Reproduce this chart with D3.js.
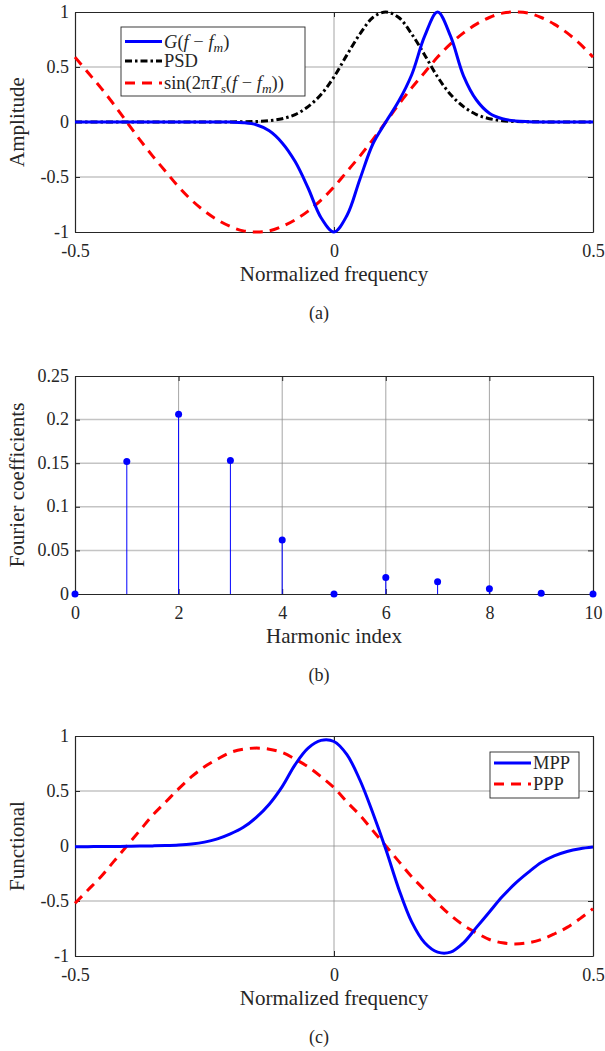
<!DOCTYPE html>
<html>
<head>
<meta charset="utf-8">
<script src="https://cdn.jsdelivr.net/npm/d3@7"></script>
<style>
  body { margin: 0; background: #fff; }
  svg text { font-family: "Liberation Serif", "Times New Roman", serif; fill: #262626; }
</style>
</head>
<body>
<svg id="fig" width="605" height="1051"></svg>
<script>
// ---- data ---------------------------------------------------------------
// normalized frequency samples shared by panels (a) and (c)
const freq = [-0.5, -0.475, -0.45, -0.425, -0.4, -0.375, -0.35, -0.325, -0.3, -0.275,
  -0.25, -0.225, -0.2, -0.175, -0.15, -0.125, -0.1, -0.075, -0.05, -0.025,
  0, 0.025, 0.05, 0.075, 0.1, 0.125, 0.15, 0.175, 0.2, 0.225,
  0.25, 0.275, 0.3, 0.325, 0.35, 0.375, 0.4, 0.425, 0.45, 0.475, 0.5];

// panel (a)
const gShifted = [0, 0, 0, 0, 0, 0, 0, 0, 0, 0,
  0, 0, -0.001, -0.006, -0.025, -0.08, -0.19, -0.36, -0.6, -0.87,
  -1.0, -0.85, -0.52, -0.2, 0, 0.19, 0.43, 0.78, 1.0, 0.78,
  0.42, 0.2, 0.08, 0.03, 0.01, 0.003, 0, 0, 0, 0, 0];
const psd = [0, 0, 0, 0, 0, 0, 0, 0, 0, 0,
  0, 0, 0.001, 0.002, 0.005, 0.012, 0.03, 0.068, 0.14, 0.25,
  0.41, 0.61, 0.8, 0.95, 1.0, 0.95, 0.8, 0.61, 0.41, 0.25,
  0.14, 0.068, 0.03, 0.012, 0.005, 0.002, 0.001, 0, 0, 0, 0];
const sinRef = [0.59, 0.45, 0.31, 0.16, 0, -0.16, -0.31, -0.45, -0.59, -0.71,
  -0.81, -0.89, -0.95, -0.99, -1, -0.99, -0.95, -0.89, -0.81, -0.71,
  -0.59, -0.45, -0.31, -0.16, 0, 0.16, 0.31, 0.45, 0.59, 0.71,
  0.81, 0.89, 0.95, 0.99, 1, 0.99, 0.95, 0.89, 0.81, 0.71, 0.59];

// panel (b)
const harmonic = [0, 1, 2, 3, 4, 5, 6, 7, 8, 9, 10];
const coeffs = [0, 0.152, 0.206, 0.153, 0.062, 0, 0.019, 0.014, 0.006, 0.001, 0];

// panel (c)
const mpp = [-0.006, -0.006, -0.005, -0.004, -0.003, -0.001, 0.001, 0.004, 0.009, 0.018,
  0.035, 0.065, 0.11, 0.17, 0.26, 0.38, 0.54, 0.74, 0.89, 0.96,
  0.95, 0.83, 0.6, 0.3, -0.03, -0.39, -0.69, -0.88, -0.965, -0.965,
  -0.88, -0.74, -0.6, -0.46, -0.34, -0.24, -0.15, -0.09, -0.05, -0.025, -0.01];
const ppp = [-0.52, -0.40, -0.28, -0.14, 0, 0.14, 0.28, 0.40, 0.52, 0.63,
  0.72, 0.79, 0.85, 0.88, 0.89, 0.88, 0.85, 0.79, 0.72, 0.63,
  0.53, 0.40, 0.28, 0.14, 0, -0.14, -0.28, -0.40, -0.52, -0.63,
  -0.72, -0.79, -0.85, -0.88, -0.89, -0.88, -0.85, -0.80, -0.74, -0.66, -0.57];

// tick values and labels
const freqTicks = [-0.5, 0, 0.5];
const freqTickLabels = ["-0.5", "0", "0.5"];
const unitTicks = [-1, -0.5, 0, 0.5, 1];
const unitTickLabels = ["-1", "-0.5", "0", "0.5", "1"];
const harmTicks = [0, 2, 4, 6, 8, 10];
const harmTickLabels = ["0", "2", "4", "6", "8", "10"];
const coefTicks = [0, 0.05, 0.1, 0.15, 0.2, 0.25];
const coefTickLabels = ["0", "0.05", "0.1", "0.15", "0.2", "0.25"];

// ---- layout ---------------------------------------------------------------
const W = 605, H = 1051;
const left = 75, right = 593;
const axisColor = "#262626";
const tickFont = 18, labelFont = 21, captionFont = 18, legendFont = 18.5;

const svg = d3.select("#fig");
svg.append("rect").attr("width", W).attr("height", H).attr("fill", "#fff");

function makePanel(opt) {
  const x = d3.scaleLinear().domain(opt.xDomain).range([left, right]);
  const y = d3.scaleLinear().domain(opt.yDomain).range([opt.bottom, opt.top]);
  const g = svg.append("g");

  // grid
  g.append("g").selectAll("line").data(opt.yGrid).join("line")
    .attr("x1", left).attr("x2", right)
    .attr("y1", d => y(d)).attr("y2", d => y(d))
    .attr("stroke", "#c4c4c4").attr("stroke-width", 1.5);
  g.append("g").selectAll("line").data(opt.xGrid).join("line")
    .attr("x1", d => x(d)).attr("x2", d => x(d))
    .attr("y1", opt.top).attr("y2", opt.bottom)
    .attr("stroke", "#8e8e8e").attr("stroke-width", 0.8);

  const fmtX = d => opt.xLabels[opt.xTicks.indexOf(d)];
  const fmtY = d => opt.yLabels[opt.yTicks.indexOf(d)];
  const axes = [
    [d3.axisBottom(x).tickValues(opt.xTicks).tickFormat(fmtX).tickPadding(12.5), `translate(0,${opt.bottom})`],
    [d3.axisTop(x).tickValues(opt.xTicks).tickFormat(""), `translate(0,${opt.top})`],
    [d3.axisLeft(y).tickValues(opt.yTicks).tickFormat(fmtY).tickPadding(6), `translate(${left},0)`],
    [d3.axisRight(y).tickValues(opt.yTicks).tickFormat(""), `translate(${right},0)`]
  ];
  axes.forEach(([ax, tr], k) => {
    const a = g.append("g").attr("transform", tr)
      .call(ax.tickSizeInner(-5).tickSizeOuter(0));
    a.attr("font-family", null).attr("font-size", null);
    a.select(".domain").attr("stroke", axisColor).attr("stroke-width", 1.2);
    a.selectAll(".tick line").attr("stroke", axisColor).attr("stroke-width", 1);
    a.selectAll(".tick text").attr("font-size", tickFont).attr("fill", axisColor);
    if (k === 2) a.selectAll(".tick text").attr("dy", "0.28em");
  });

  // axis titles and caption
  const cx = (left + right) / 2;
  g.append("text").attr("x", cx).attr("y", opt.bottom + 48.5)
    .attr("text-anchor", "middle").attr("font-size", labelFont).text(opt.xTitle);
  g.append("text")
    .attr("transform", `translate(24,${(opt.top + opt.bottom) / 2}) rotate(-90)`)
    .attr("text-anchor", "middle").attr("font-size", labelFont).text(opt.yTitle);
  g.append("text").attr("x", 319).attr("y", opt.bottom + 87)
    .attr("text-anchor", "middle").attr("font-size", captionFont).text(opt.caption);

  return { x, y, g };
}

function drawCurve(p, values, style) {
  const line = d3.line()
    .x((d, i) => p.x(freq[i]))
    .y(d => p.y(d))
    .curve(d3.curveCatmullRom.alpha(0.5));
  p.g.append("path").datum(values)
    .attr("d", line)
    .attr("fill", "none")
    .attr("stroke", style.color)
    .attr("stroke-width", style.width)
    .attr("stroke-dasharray", style.dash || null)
    .attr("stroke-linejoin", "round");
}

const styles = {
  blue: { color: "#0000ff", width: 3 },
  red: { color: "#ff0000", width: 3, dash: "10,7" },
  black: { color: "#000000", width: 3, dash: "7,3,2.5,3" }
};

function legendEntry(g, x0, y0, style, buildText) {
  g.append("line").attr("x1", x0).attr("x2", x0 + 37).attr("y1", y0).attr("y2", y0)
    .attr("stroke", style.color).attr("stroke-width", style.width)
    .attr("stroke-dasharray", style.dash || null);
  const t = g.append("text").attr("x", x0 + 39).attr("y", y0 + 6)
    .attr("font-size", legendFont).attr("fill", "#000");
  buildText(t);
}

function mathText(t, parts) {
  // parts: [string, italic?, subscript?]
  let shifted = false;
  parts.forEach(([s, it, sub]) => {
    const ts = t.append("tspan").text(s);
    if (it) ts.attr("font-style", "italic");
    if (sub && !shifted) { ts.attr("dy", 4).attr("font-size", legendFont * 0.72); shifted = true; }
    else if (sub) { ts.attr("font-size", legendFont * 0.72); }
    else if (shifted) { ts.attr("dy", -4); shifted = false; }
  });
}

// ---- panel (a) ------------------------------------------------------------
const pa = makePanel({
  top: 12, bottom: 232, xDomain: [-0.5, 0.5], yDomain: [-1, 1],
  xTicks: freqTicks, xLabels: freqTickLabels, yTicks: unitTicks, yLabels: unitTickLabels,
  xGrid: [0], yGrid: [-0.5, 0, 0.5],
  xTitle: "Normalized frequency", yTitle: "Amplitude", caption: "(a)"
});
drawCurve(pa, sinRef, styles.red);
drawCurve(pa, psd, styles.black);
drawCurve(pa, gShifted, styles.blue);

const legA = pa.g.append("g");
legA.append("rect").attr("x", 121).attr("y", 27).attr("width", 184).attr("height", 69)
  .attr("fill", "#fff").attr("stroke", axisColor).attr("stroke-width", 0.9);
legendEntry(legA, 125, 41.5, styles.blue, t => mathText(t, [
  ["G", true], ["("], ["f", true], [" \u2212 "], ["f", true], ["m", true, true], [")"]
]));
legendEntry(legA, 125, 61, styles.black, t => t.text("PSD"));
legendEntry(legA, 125, 83, styles.red, t => mathText(t, [
  ["sin(2\u03C0"], ["T", true], ["s", true, true], ["("], ["f", true], [" \u2212 "],
  ["f", true], ["m", true, true], ["))"]
]));

// ---- panel (b) ------------------------------------------------------------
const pb = makePanel({
  top: 376, bottom: 594, xDomain: [0, 10], yDomain: [0, 0.25],
  xTicks: harmTicks, xLabels: harmTickLabels, yTicks: coefTicks, yLabels: coefTickLabels,
  xGrid: [2, 4, 6, 8], yGrid: [0.05, 0.1, 0.15, 0.2],
  xTitle: "Harmonic index", yTitle: "Fourier coefficients", caption: "(b)"
});
const stems = pb.g.append("g");
stems.selectAll("line").data(harmonic).join("line")
  .attr("x1", d => pb.x(d)).attr("x2", d => pb.x(d))
  .attr("y1", pb.y(0)).attr("y2", (d, i) => pb.y(coeffs[i]))
  .attr("stroke", "#0000ff").attr("stroke-width", 1);
stems.selectAll("circle").data(harmonic).join("circle")
  .attr("cx", d => pb.x(d)).attr("cy", (d, i) => pb.y(coeffs[i]))
  .attr("r", 3.5).attr("fill", "#0000ff");

// ---- panel (c) ------------------------------------------------------------
const pc = makePanel({
  top: 736, bottom: 956, xDomain: [-0.5, 0.5], yDomain: [-1, 1],
  xTicks: freqTicks, xLabels: freqTickLabels, yTicks: unitTicks, yLabels: unitTickLabels,
  xGrid: [0], yGrid: [-0.5, 0, 0.5],
  xTitle: "Normalized frequency", yTitle: "Functional", caption: "(c)"
});
drawCurve(pc, ppp, styles.red);
drawCurve(pc, mpp, styles.blue);

const legC = pc.g.append("g");
legC.append("rect").attr("x", 490).attr("y", 752).attr("width", 89).attr("height", 46)
  .attr("fill", "#fff").attr("stroke", axisColor).attr("stroke-width", 0.9);
legendEntry(legC, 494, 763, styles.blue, t => t.text("MPP"));
legendEntry(legC, 494, 784, styles.red, t => t.text("PPP"));
</script>
</body>
</html>
